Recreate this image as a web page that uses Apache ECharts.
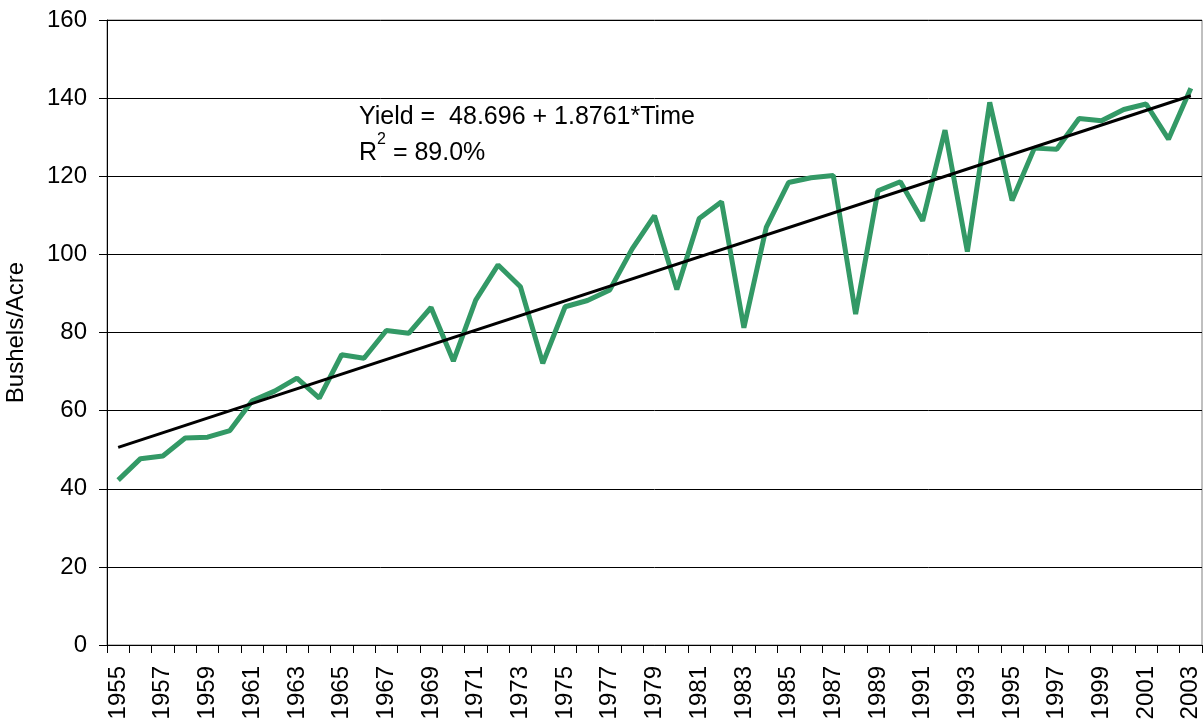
<!DOCTYPE html>
<html>
<head>
<meta charset="utf-8">
<script src="https://cdn.jsdelivr.net/npm/echarts@6/dist/echarts.min.js"></script>
<style>
  html, body { margin: 0; padding: 0; background: #fff; }
  #chart { width: 1204px; height: 721px; }
</style>
</head>
<body>
<div id="chart"></div>
<script>
// 年份
const years = [];
for (let y = 1955; y <= 2003; y++) years.push(String(y));

// 单产 (bushels/acre)
const yieldValues = [
  42.2, 47.7, 48.4, 53.0, 53.2, 54.9, 62.5, 65.0, 68.3, 63.2,
  74.3, 73.4, 80.5, 79.8, 86.4, 72.7, 88.3, 97.3, 91.7, 72.1,
  86.6, 88.2, 90.9, 101.4, 109.9, 91.0, 109.2, 113.5, 81.2, 106.9,
  118.4, 119.6, 120.2, 84.7, 116.3, 118.6, 108.6, 131.8, 100.7, 138.9,
  113.8, 127.2, 126.9, 134.8, 134.2, 137.1, 138.5, 129.5, 142.5
];

// 趋势线两端
const trendYears = ['1955', '2003'];
const trendValues = [50.6, 140.6];

// y 轴刻度
const yMin = 0;
const yMax = 160;
const yStep = 20;

const FONT = 'Liberation Sans, Arial, sans-serif';

const chart = echarts.init(document.getElementById('chart'));

const option = {
  animation: false,
  textStyle: { fontFamily: FONT },
  grid: {
    left: 107,
    top: 20,
    right: 2,
    bottom: 76,
    outerBoundsMode: 'none',
    containLabel: false,
    show: true,
    borderColor: '#808080',
    borderWidth: 1
  },
  xAxis: {
    type: 'category',
    data: years,
    boundaryGap: true,
    axisLine: { show: true, lineStyle: { color: '#000', width: 1 } },
    axisTick: { show: true, interval: 0, length: 8, lineStyle: { color: '#000' } },
    axisLabel: {
      interval: 1,
      rotate: 90,
      fontSize: 24,
      color: '#000',
      margin: 21
    },
    splitLine: { show: false }
  },
  yAxis: {
    type: 'value',
    min: yMin,
    max: yMax,
    interval: yStep,
    name: 'Bushels/Acre',
    nameLocation: 'middle',
    nameGap: 79,
    nameTextStyle: { fontSize: 24, color: '#000' },
    axisLine: { show: true, lineStyle: { color: '#000', width: 1 } },
    axisTick: { show: true, length: 8, lineStyle: { color: '#000' } },
    axisLabel: { fontSize: 24, color: '#000', margin: 20 },
    splitLine: { show: true, lineStyle: { color: '#000', width: 1 } }
  },
  series: [
    {
      name: 'Yield',
      type: 'line',
      data: yieldValues,
      symbol: 'none',
      lineStyle: { color: '#339966', width: 5 },
      z: 2
    },
    {
      name: 'Trend',
      type: 'line',
      data: trendYears.map((y, i) => [y, trendValues[i]]),
      symbol: 'none',
      lineStyle: { color: '#000', width: 3 },
      z: 3
    }
  ],
  graphic: [
    {
      type: 'text',
      left: 359,
      top: 105,
      style: {
        text: 'Yield =  48.696 + 1.8761*Time',
        font: '25px ' + FONT,
        fill: '#000'
      }
    },
    {
      type: 'text',
      left: 359,
      top: 132,
      style: {
        text: '{a|R}{s|2}{a| = 89.0%}',
        fill: '#000',
        rich: {
          a: { fontSize: 25, fontFamily: FONT, verticalAlign: 'bottom', lineHeight: 34 },
          s: { fontSize: 16, fontFamily: FONT, verticalAlign: 'top', lineHeight: 34 }
        }
      }
    }
  ]
};

chart.setOption(option);
</script>
</body>
</html>
